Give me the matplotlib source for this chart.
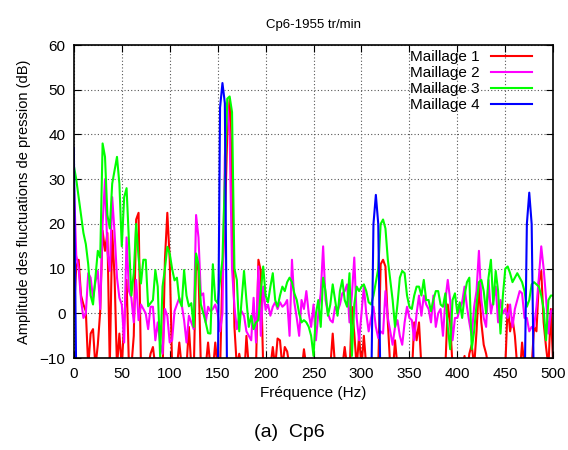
import numpy as np
import matplotlib
matplotlib.use("Agg")
import matplotlib.pyplot as plt

plt.rcParams['font.family'] = ['Liberation Sans', 'DejaVu Sans']

# frequency bins (Hz), 2.5 Hz step
freq = np.arange(201) * 2.5

# Maillage 1 (red) - values below -10 are clipped by the axis
m1 = [0, 10.5, 12, 4, 2, 0.5, -12, -4.5, -3.5, -12, -7, 0.5, 18.5, 14, 18, -12, 18.5, 8, -12, -4.5,
      -12, -2, 7.5, -12, -12, -5, 21, 22.5, -12, -12, -14, -12, -9, -7.5, -12, -15, -12, -14, 12, 22.5,
      12, -12, -14, -12, -6.5, -12, -15, -12, -3, -12, -14, 12, 9.5, -12, -15, -12, -6.5, -12, -13, -6.5,
      -12, -13, 10, 20, 40, 48, 30, -3, -12, -9, -12, -15, -5, -12, -13, -14, -12, 12, 9.5, -12,
      -13, -14, -12, -7.5, -12, -5.6, -6, -12, -7.5, -8.5, -12, -14, -13, -15, -12, -13, -8, -12, -14, -13,
      -12, -15, -14, -12, -13, -14, -15, -12, -4.5, -12, -14, -13, -12, -7.5, -12, -14, 1.5, -4.5, -12, -5,
      -12, -5, -12, -14, -15, -12, -13, -12, 11, 12, 10.5, -2, -12, -14, -6, -12, -14, -13, -15, -12,
      -12, -14, -2, -6, -2, -12, -14, -13, -15, -12, -13, -14, -12, -15, -13, -12, 2, -2, -12, -14,
      -13, -15, -12, -9.5, -14, -9, -7, -12, -4, 6.5, -2, -7, -9, -12, -13, -15, -12, -14, -13, -12,
      -12, 2, -4, -1, -5, -12, -14, -6.5, -12, -14, -15, -12, -3, -4, 7, 9.5, -2, -7.5, -12, 1, -12]

# Maillage 2 (magenta)
m2 = [30, 13, 10, 3, -1, 0, 9, 8, 3.5, 7, 9.5, 1, 20, 30, 14, 9.5, 26, 18, 8, 3.5,
      2, -6.5, 17, 5, 3.5, -2, 7.5, -1.5, 2, 1, 0, -3.5, 1.5, 1.5, -6, -2, -6.5, -9, 1, -0.5,
      -6.5, -6, 0.5, 2, 3.5, 2, -1.5, -6.5, -0.5, -2, -3.5, 22, 17, 4, 4.5, -2, 1.5, 0.5, 1, 2,
      0, -4, 0, 35, 47, 40, 10, 1.5, -3.5, -0.5, 0.5, -0.5, -4, -5, -6, 3.5, -6.5, 10.5, -5, 6,
      0.8, 2, -0.5, 1.5, 2.5, 1, 2.5, 1.5, 2, 3, -5, 12, 2.5, -1, -5, 3, 1, 5, 0, -3,
      2, -6, 0, 4.5, 15, 3, 0, -1.5, -2, 1.5, 0.5, 2, 4.5, 5, 6.5, -2, 4, 12.5, -1, -6,
      0, 6, 0, -4, -1, 1.5, -3, -5.5, -4, -4.5, 5, -1, -4, -7, -3, -1.5, -5, -7, -2, 1.5,
      -1, -1.5, -6, 0, 4, -0.5, 4, 2, 1, -2, 4, -3, 0, 1, -5, 3, 7.5, 3, -6, -1,
      -1, 1, 2.5, 6, 1.5, -2, -5, 1.5, 5, 14, 3, -1, -3, 7.5, 0, 3, 6, -2, 3, 0,
      1, -1, 2, -3, 1, 3, 5, 4.5, -1, -1, -4, -3, -3, 1.5, 8, 15, 10, 3.5, -4.5, 0.5, 1]

# Maillage 3 (green)
m3 = [33, 30, 26, 22, 18, 15.5, 11, 4, 2, 8, 14, 12.5, 38, 35, 22, 19, 29, 32, 35, 29,
      15, 26, 28, 16, 4, 9, 20, 12.6, 6.7, 12, 12, 1.6, 2.3, 3, 9.7, 6, -9.7, 6, 10, 14.9,
      13.4, 10, 7.4, 8, 3, 1.6, 9.7, 4, 1.6, 2.3, -3, 13.4, 11, 2, 0.1, -2, -4.4, -4.5, 11, 3,
      2.3, 7.4, 12, 30, 48, 48.5, 45, 10, 7.5, -4, 3, 9.5, 3, -3, -0.5, -3.5, -2, -1.5, 5, 10.5,
      4, 2.5, 6, 9, 3, 1.5, 4, 6, 5, 7, 8, 7, 4.5, 3, 0, -2, -1.5, -2, -3, -5,
      -9.5, 0, 3, -3, 8, 5, -0.5, 2, 6.5, 3, -0.5, 5, 7.5, 3, 1.5, 9, -9.5, 2, 6, 5,
      6, 6.5, 5, 2.5, 2, 4, 7, 10, 20, 21, 19, 12, 7.5, 3, -3, 2, 8, 9.5, 9, 4,
      1.5, 1, 4, 6, 6, 4, 7.5, 3, 3, 0.5, 3, 5, 5, 2, 1.5, 4.5, -3, -8, 3, 4.5,
      0, 2.5, -1, 4, 7, 8, -8, -4, 2, 7, 7.5, 5, 0, 8, 12, 2, 9.5, 5, -4.5, 4,
      10, 10.5, 9, 7, 8, 9, 8, 7, 5, 1.5, 3, 6.5, 7, 6.5, 6, 4, 1, -6, 3, 4, 4]

# Maillage 4 (blue) - only the peaks rise above the floor
m4 = [37, -15] + [-20] * 59 + [46, 51.5, 47] + [-20] * 61 + [20, 26.5, 20] + [-20] * 61 + [20, 27, 20] + [-20] * 9

series = [("Maillage 1", m1, "#ff0000"),
          ("Maillage 2", m2, "#ff00ff"),
          ("Maillage 3", m3, "#00ff00"),
          ("Maillage 4", m4, "#0000ff")]

fig = plt.figure(figsize=(5.68, 4.5), dpi=100)
ax = fig.add_axes([0.130, 0.204, 0.844, 0.696])

for name, vals, col in series:
    ax.plot(freq, vals, color=col, linewidth=1.5, label=name)

ax.set_xlim(0, 500)
ax.set_ylim(-10, 60)
ax.set_xticks(np.arange(0, 501, 50))
ax.set_yticks(np.arange(-10, 61, 10))
ax.tick_params(direction='in', top=True, right=True, length=5, labelsize=11, pad=6)
ax.grid(True, linestyle=(0, (1, 2)), color='#555555', linewidth=0.8)
for s in ax.spines.values():
    s.set_linewidth(1.2)

ax.set_title("Cp6-1955 tr/min", fontsize=9.5, pad=12)
ax.set_xlabel("Fréquence (Hz)", fontsize=11, labelpad=4)
ax.set_ylabel("Amplitude des fluctuations de pression (dB)", fontsize=10.5, labelpad=6)

leg = ax.legend(loc='upper right', bbox_to_anchor=(0.978, 1.018), frameon=False,
                markerfirst=False, fontsize=11, handlelength=2.7, handletextpad=0.7,
                labelspacing=0.13, borderaxespad=0.3)
for t in leg.get_texts():
    t.set_ha('right')

fig.text(0.51, 0.038, "(a)  Cp6", fontsize=14, ha='center', va='center')

fig.savefig("out.png", dpi=100)
